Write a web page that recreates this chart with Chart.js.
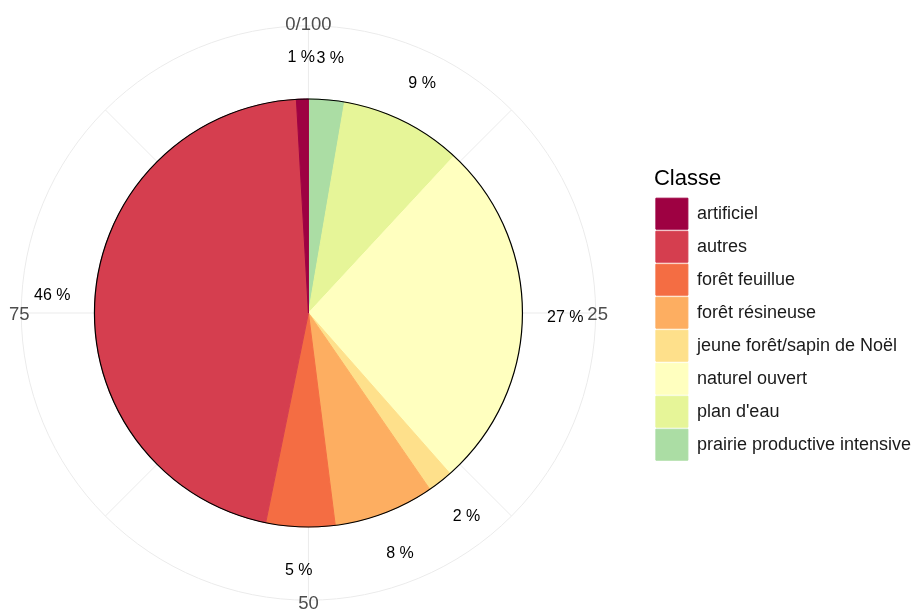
<!DOCTYPE html>
<html lang="fr">
<head>
<meta charset="utf-8">
<title>Classe</title>
<script src="https://cdn.jsdelivr.net/npm/chart.js@4.4.1/dist/chart.umd.min.js"></script>
<style>
  html, body { margin: 0; padding: 0; background: #fff; }
  #wrap { width: 915px; height: 610px; }
</style>
</head>
<body>
<div id="wrap"><canvas id="pieChart" width="915" height="610"></canvas></div>
<script>
// classes in legend order (alphabetical, as in the source plot)
const classes = ['artificiel', 'autres', 'forêt feuillue', 'forêt résineuse',
  'jeune forêt/sapin de Noël', 'naturel ouvert', "plan d'eau", 'prairie productive intensive'];
const shares = [0.9, 45.9, 5.2, 7.6, 1.9, 26.6, 9.2, 2.7];
const shareLabels = ['1 %', '46 %', '5 %', '8 %', '2 %', '27 %', '9 %', '3 %'];
const colours = ['#9E0142', '#D53E4F', '#F46D43', '#FDAE61', '#FEE08B', '#FFFFBF', '#E6F598', '#ABDDA4'];

// theta axis (coord_polar style)
const thetaTicks = [0, 25, 50, 75];
const thetaTickLabels = ['0/100', '25', '50', '75'];
const thetaMinor = [12.5, 37.5, 62.5, 87.5];

const FONT = '"Liberation Sans", Arial, sans-serif';

// slices go clockwise from the top in reverse legend order
const drawClasses = classes.slice().reverse();
const drawShares = shares.slice().reverse();
const drawLabels = shareLabels.slice().reverse();
const drawColours = colours.slice().reverse();

// layout nudges: pie a bit more to the left, legend a bit more to the right
const layoutTweak = {
    id: 'layoutTweak',
    afterLayout(chart) {
        const a = chart.chartArea;
        a.left -= 31;
        a.width = a.right - a.left;
        if (chart.legend) {
            chart.legend.left += 6;
            chart.legend.right += 6;
        }
    }
};

const polarGrid = {
    id: 'polarGrid',
    beforeDatasetsDraw(chart) {
        const arc = chart.getDatasetMeta(0).data[0];
        if (!arc) return;
        const cx = arc.x, cy = arc.y;
        const R = arc.outerRadius * 1.342;
        const total = shares.reduce((a, b) => a + b, 0);
        const ang = v => -Math.PI / 2 + (v / total) * Math.PI * 2;
        const ctx = chart.ctx;
        ctx.save();
        ctx.strokeStyle = '#ebebeb';
        ctx.lineWidth = 1;
        ctx.beginPath();
        ctx.arc(cx, cy, R, 0, Math.PI * 2);
        ctx.stroke();
        thetaTicks.concat(thetaMinor).forEach(v => {
            const a = ang(v);
            ctx.beginPath();
            ctx.moveTo(cx, cy);
            ctx.lineTo(cx + R * Math.cos(a), cy + R * Math.sin(a));
            ctx.stroke();
        });
        ctx.fillStyle = '#4d4d4d';
        ctx.font = '18.5px ' + FONT;
        ctx.textAlign = 'center';
        ctx.textBaseline = 'middle';
        thetaTicks.forEach((v, i) => {
            const a = ang(v);
            const r = R + 2;
            ctx.fillText(thetaTickLabels[i], cx + r * Math.cos(a), cy + r * Math.sin(a) + 1.5);
        });
        ctx.restore();
    },
    afterDatasetsDraw(chart) {
        const meta = chart.getDatasetMeta(0);
        const first = meta.data[0];
        if (!first) return;
        const ctx = chart.ctx;
        ctx.save();
        // outline only on the outer edge
        ctx.strokeStyle = '#000';
        ctx.lineWidth = 1.2;
        ctx.beginPath();
        ctx.arc(first.x, first.y, first.outerRadius, 0, Math.PI * 2);
        ctx.stroke();
        // percent labels
        ctx.fillStyle = '#000';
        ctx.font = '16px ' + FONT;
        ctx.textAlign = 'center';
        ctx.textBaseline = 'middle';
        meta.data.forEach((el, i) => {
            const mid = (el.startAngle + el.endAngle) / 2;
            const r = el.outerRadius * 1.2;
            ctx.fillText(drawLabels[i], el.x + r * Math.cos(mid), el.y + r * Math.sin(mid) + 1);
        });
        ctx.restore();
    }
};

new Chart(document.getElementById('pieChart'), {
    type: 'pie',
    data: {
        labels: drawClasses,
        datasets: [{
            data: drawShares,
            backgroundColor: drawColours,
            borderColor: drawColours,
            borderWidth: 1
        }]
    },
    options: {
        responsive: false,
        animation: false,
        radius: 214,
        layout: { padding: { left: 0, top: 16, right: 0, bottom: 0 } },
        plugins: {
            tooltip: { enabled: false },
            legend: {
                position: 'right',
                reverse: true,
                title: {
                    display: true,
                    text: 'Classe',
                    position: 'start',
                    color: '#000',
                    font: { size: 22, family: FONT },
                    padding: { top: 4, bottom: 2 }
                },
                labels: {
                    boxWidth: 32,
                    boxHeight: 31,
                    padding: 2,
                    color: '#1a1a1a',
                    font: { size: 18, family: FONT }
                }
            }
        }
    },
    plugins: [layoutTweak, polarGrid]
});
</script>
</body>
</html>
